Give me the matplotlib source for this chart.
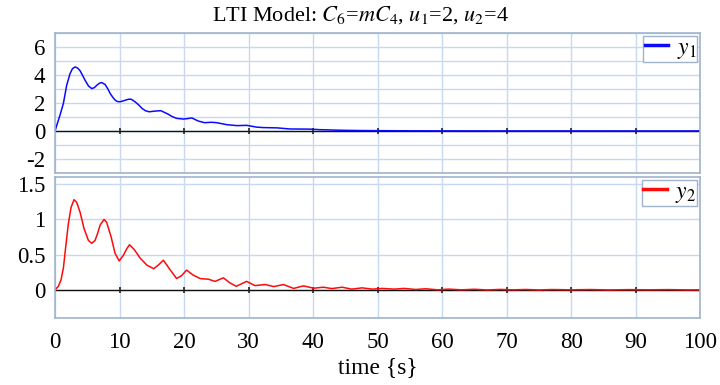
import matplotlib
matplotlib.use('Agg')
import matplotlib.pyplot as plt
from matplotlib.ticker import MultipleLocator

# --- data (time in s) ---
t1 = [0, 0.78, 1.3, 1.81, 2.33, 2.7, 3.1, 3.5, 3.9, 4.3, 4.66, 5.18, 5.7, 6.1, 6.48,
      6.9, 7.25, 7.77, 8.2, 8.55, 9.0, 9.33, 9.7, 10.1, 10.5, 10.9, 11.4, 11.8, 12.4,
      13.0, 13.5, 14.0, 14.6, 15.5, 16.4, 17.5, 18.2, 18.85, 19.9, 20.5, 21.2, 22.2,
      23.2, 24.2, 25.1, 26.6, 28.2, 29.7, 31.3, 32.3, 34.4, 36.4, 39.5, 41.1, 44.2,
      47, 50, 55, 60, 70, 80, 90, 100]
y1 = [0, 1.14, 1.97, 3.27, 4.1, 4.45, 4.58, 4.5, 4.3, 3.95, 3.63, 3.22, 3.03, 3.1, 3.27,
      3.42, 3.46, 3.32, 3.0, 2.68, 2.38, 2.2, 2.1, 2.09, 2.14, 2.2, 2.27, 2.27, 2.09,
      1.85, 1.61, 1.45, 1.37, 1.42, 1.45, 1.21, 1.02, 0.90, 0.85, 0.88, 0.93, 0.71,
      0.59, 0.62, 0.59, 0.45, 0.38, 0.40, 0.27, 0.24, 0.22, 0.14, 0.13, 0.09, 0.05,
      0.03, 0.02, 0.01, 0.005, 0.002, 0.001, 0, 0]

t2 = [0, 0.52, 0.93, 1.3, 1.66, 2.07, 2.49, 2.95, 3.37, 3.89, 4.5, 5.18, 5.7, 6.2, 6.6,
      7.0, 7.6, 8.0, 8.7, 9.3, 9.95, 10.6, 11.1, 11.55, 12.3, 13.2, 14.25, 15.3, 16.0,
      16.8, 17.8, 18.85, 19.6, 20.4, 21.4, 22.5, 23.8, 24.8, 26.1, 27.1, 28.1, 29.7,
      31.0, 32.6, 33.9, 35.4, 37.0, 38.5, 40.1, 41.6, 42.9, 44.5, 46.0, 47.6, 49.2,
      50.7, 52.6, 54.1, 55.9, 57.5, 59.3, 61, 63, 65, 67, 69, 71, 73, 75, 77, 80, 83,
      86, 89, 92, 95, 98, 100]
y2 = [0, 0.05, 0.14, 0.31, 0.61, 0.94, 1.17, 1.28, 1.24, 1.10, 0.87, 0.70, 0.66, 0.70,
      0.80, 0.92, 1.0, 0.96, 0.75, 0.52, 0.41, 0.49, 0.58, 0.64, 0.57, 0.45, 0.35, 0.30,
      0.35, 0.42, 0.29, 0.16, 0.2, 0.28, 0.21, 0.16, 0.15, 0.12, 0.17, 0.10, 0.05, 0.12,
      0.06, 0.075, 0.046, 0.075, 0.02, 0.056, 0.023, 0.037, 0.018, 0.037, 0.01, 0.028,
      0.01, 0.02, 0.01, 0.02, 0.005, 0.015, 0.0, 0.01, 0.0, 0.008, -0.002, 0.006, 0.0,
      0.005, -0.002, 0.004, 0.0, 0.004, -0.002, 0.003, 0.0, 0.003, -0.001, 0.0]

x_ticks = [0, 10, 20, 30, 40, 50, 60, 70, 80, 90, 100]

plt.rcParams['font.family'] = ['Liberation Serif', 'DejaVu Serif']
plt.rcParams['mathtext.fontset'] = 'stix'
plt.rcParams['axes.unicode_minus'] = False

GRID = '#c6d9ef'
FRAME = '#9fb3cc'


def style_axes(ax, ylim, major, minor):
    ax.set_xlim(0, 100)
    ax.set_ylim(*ylim)
    ax.set_xticks(x_ticks)
    ax.yaxis.set_major_locator(MultipleLocator(major))
    ax.yaxis.set_minor_locator(MultipleLocator(minor))
    ax.grid(True, which='both', color=GRID, lw=1.0)
    ax.set_axisbelow(True)
    for s in ax.spines.values():
        s.set_color(FRAME)
        s.set_linewidth(1.2)
    ax.tick_params(which='both', length=0, labelsize=16.5, pad=7)
    ax.tick_params(axis='x', pad=10)
    # black zero line with small tick marks at the x ticks
    ax.axhline(0, color='#111111', lw=1.0, zorder=1.5)
    ax.plot(x_ticks[1:-1], [0] * (len(x_ticks) - 2), ls='none', marker='|',
            ms=5, mew=1.2, color='#222222', zorder=1.6)


fig = plt.figure(figsize=(7.2, 3.85), dpi=100)
ax1 = fig.add_axes([0.0764, 0.551, 0.896, 0.363])
ax2 = fig.add_axes([0.0764, 0.174, 0.896, 0.366])

ax1.plot(t1, y1, color='#0a0aff', lw=1.1, label=r'$y_1$', zorder=2)
style_axes(ax1, (-3, 7), 2, 1)
ax1.tick_params(labelbottom=False)

ax2.plot(t2, y2, color='#ff0a0a', lw=1.1, label=r'$y_2$', zorder=2)
style_axes(ax2, (-0.4, 1.6), 0.5, 0.5)
ax2.set_yticks([0, 0.5, 1, 1.5])
ax2.set_yticklabels(['0', '0.5', '1', '1.5'])
ax2.set_xlabel('time {s}', fontsize=17, labelpad=3)

for ax in (ax1, ax2):
    handles, labels = ax.get_legend_handles_labels()
    leg = ax.legend(handles[:1], labels[:1], loc='upper right', fontsize=17,
                    fancybox=False, framealpha=1, borderaxespad=0.12,
                    handlelength=1.0, borderpad=0.05, handletextpad=0.35)
    leg.get_frame().set_edgecolor(FRAME)
    leg.get_frame().set_linewidth(1.0)
    for ln in leg.get_lines():
        ln.set_linewidth(2.5)

fig.suptitle(r'LTI Model: $C_6$=$mC_4$, $u_1$=2, $u_2$=4', fontsize=16, y=0.99)

fig.savefig('out.png', dpi=100)
